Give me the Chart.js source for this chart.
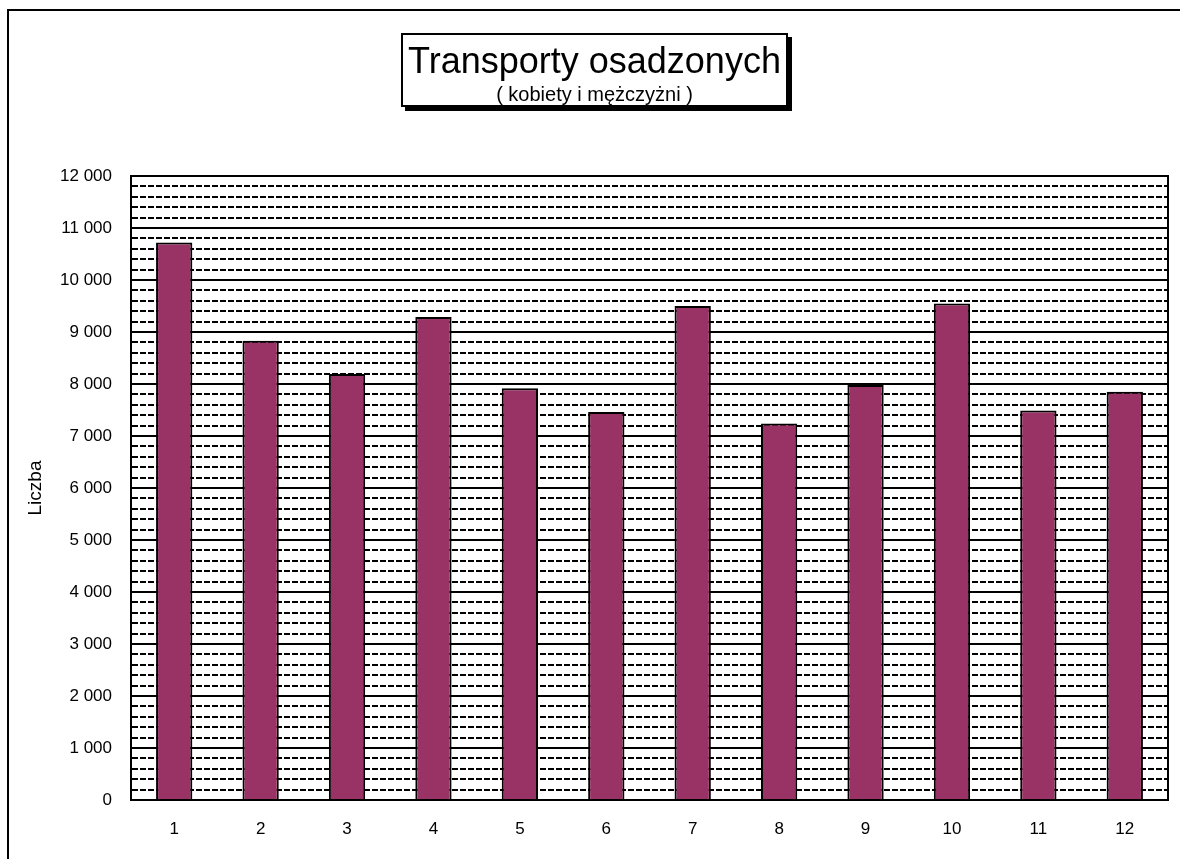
<!DOCTYPE html>
<html>
<head>
<meta charset="utf-8">
<script src="https://cdn.jsdelivr.net/npm/chart.js@4"></script>
<style>
  html, body { margin: 0; padding: 0; background: #fff; overflow: hidden; }
  body { width: 1180px; height: 859px; position: relative; font-family: "Liberation Sans", Arial, sans-serif; }
  .linia { position: absolute; background: #000; }
  #ramkaGora { left: 7px; top: 9px; width: 1173px; height: 2px; }
  #ramkaLewa { left: 7px; top: 9px; width: 2px; height: 850px; }
  #tytul { position: absolute; left: 401px; top: 33px; width: 383px; height: 70px; border: 2px solid #000; background: #fff; box-shadow: 4px 4px 0 #000; text-align: center; color: #000; }
  #tytul .glowny { font-size: 36px; line-height: 38px; margin-top: 7px; }
  #tytul .pod { font-size: 20px; line-height: 22px; margin-top: 3px; }
  #wykres { position: absolute; left: 0; top: 0; }
</style>
</head>
<body>
<div id="ramkaGora" class="linia"></div>
<div id="ramkaLewa" class="linia"></div>
<canvas id="wykres" width="1180" height="859"></canvas>
<div id="tytul">
  <div class="glowny">Transporty osadzonych</div>
  <div class="pod">( kobiety i mężczyżni )</div>
</div>
<script>
const kategorie = ["1", "2", "3", "4", "5", "6", "7", "8", "9", "10", "11", "12"];

const liczby = [10720, 8830, 8190, 9290, 7920, 7460, 9500, 7240, 7980, 9550, 7490, 7850];

const osY = { min: 0, max: 12000, krok: 200, krokEtykiet: 1000 };

const tytulOsiY = "Liczba";

function formatuj(v) {
  return String(v).replace(/\B(?=(\d{3})+(?!\d))/g, " ");
}

// ramka obszaru wykresu
const ramkaObszaru = {
  id: "ramkaObszaru",
  afterDatasetsDraw(chart) {
    const a = chart.chartArea;
    const c = chart.ctx;
    c.save();
    c.strokeStyle = "#000";
    c.lineWidth = 2;
    c.strokeRect(a.left, a.top, a.right - a.left, a.bottom - a.top);
    c.restore();
  }
};

const ctx = document.getElementById("wykres");

const wykres = new Chart(ctx, {
  type: "bar",
  data: {
    labels: kategorie,
    datasets: [{
      label: tytulOsiY,
      data: liczby,
      backgroundColor: "#993366",
      borderColor: "#000",
      borderWidth: 2,
      borderSkipped: "bottom",
      categoryPercentage: 1,
      barPercentage: 0.42
    }]
  },
  options: {
    responsive: false,
    animation: false,
    devicePixelRatio: 1,
    layout: { padding: { left: 0, top: 176, right: 12, bottom: 0 } },
    plugins: {
      legend: { display: false },
      tooltip: { enabled: false },
      title: { display: false }
    },
    scales: {
      x: {
        grid: { display: false, drawTicks: false },
        border: { display: true, color: "#000", width: 2 },
        ticks: {
          color: "#000",
          padding: 19,
          font: { family: "'Liberation Sans', Arial, sans-serif", size: 17 }
        },
        afterFit(scale) { scale.height = 59; }
      },
      y: {
        min: osY.min,
        max: osY.max,
        grid: {
          color: "#000",
          lineWidth: 2,
          drawTicks: false
        },
        border: {
          display: true,
          color: "#000",
          width: 2,
          dash: c => (c.tick && c.tick.value % osY.krokEtykiet !== 0) ? [6, 2] : []
        },
        ticks: {
          stepSize: osY.krok,
          autoSkip: false,
          color: "#000",
          padding: 19,
          font: { family: "'Liberation Sans', Arial, sans-serif", size: 17 },
          callback: v => (v % osY.krokEtykiet === 0) ? formatuj(v) : ""
        },
        title: {
          display: true,
          text: tytulOsiY,
          color: "#000",
          padding: { top: 24, bottom: 0 },
          font: { family: "'Liberation Sans', Arial, sans-serif", size: 19 }
        },
        afterFit(scale) { scale.width = 131; }
      }
    }
  },
  plugins: [ramkaObszaru]
});
</script>
</body>
</html>
